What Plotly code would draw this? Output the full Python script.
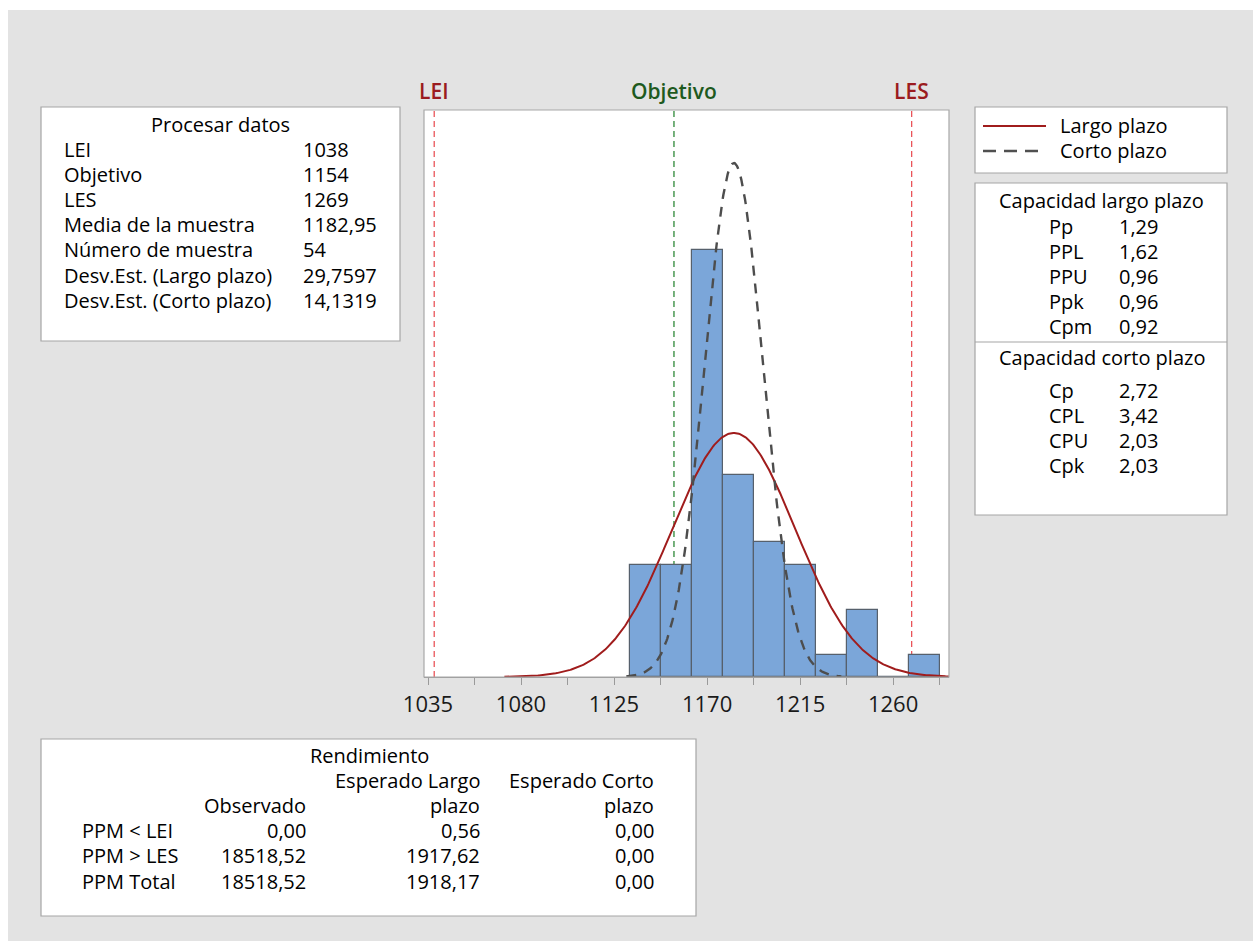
import numpy as np
import plotly.graph_objects as go

# ---------------- data ----------------
bin_centers = [1140, 1155, 1170, 1185, 1200, 1215, 1230, 1245, 1260, 1275]
counts = [5, 5, 19, 9, 6, 5, 1, 3, 0, 1]
bin_width = 15
n_sample = 54
LEI, Objetivo, LES = 1038, 1154, 1269
mean = 1182.95
sd_long = 29.7597
sd_short = 14.1319

tick_vals = [1035, 1080, 1125, 1170, 1215, 1260]

proc_labels = ["LEI", "Objetivo", "LES", "Media de la muestra", "Número de muestra",
               "Desv.Est. (Largo plazo)", "Desv.Est. (Corto plazo)"]
proc_values = ["1038", "1154", "1269", "1182,95", "54", "29,7597", "14,1319"]

long_labels = ["Pp", "PPL", "PPU", "Ppk", "Cpm"]
long_values = ["1,29", "1,62", "0,96", "0,96", "0,92"]
short_labels = ["Cp", "CPL", "CPU", "Cpk"]
short_values = ["2,72", "3,42", "2,03", "2,03"]

perf_rows = ["PPM < LEI", "PPM > LES", "PPM Total"]
perf_obs = ["0,00", "18518,52", "18518,52"]
perf_long = ["0,56", "1917,62", "1918,17"]
perf_short = ["0,00", "0,00", "0,00"]

# ---------------- layout geometry (pixels) ----------------
W, H = 1253, 941
L, R, T, B = 424, 949, 110, 677
FONT = "Open Sans"
FS = 20
FW = 500


def fx(px):
    return (px - L) / (R - L)


def fy(py):
    return (B - py) / (B - T)


dens = [c / (n_sample * bin_width) for c in counts]


def npdf(x, m, s):
    return np.exp(-0.5 * ((x - m) / s) ** 2) / (s * np.sqrt(2 * np.pi))


x_long = np.linspace(mean - 3.73 * sd_long, 1287.5, 400)
x_short = np.linspace(mean - 3.68 * sd_short, mean + 3.68 * sd_short, 300)

fig = go.Figure()
fig.add_trace(go.Bar(x=bin_centers, y=dens, width=bin_width,
                     marker=dict(color="#7BA6D9", line=dict(color="#56606C", width=1.2)),
                     hoverinfo="skip"))
fig.add_trace(go.Scatter(x=x_long, y=npdf(x_long, mean, sd_long), mode="lines",
                         line=dict(color="#A01C1C", width=2), hoverinfo="skip"))
fig.add_trace(go.Scatter(x=x_short, y=npdf(x_short, mean, sd_short), mode="lines",
                         line=dict(color="#4D4D4D", width=2.4, dash="10px,8px"), hoverinfo="skip"))

shapes = []
annotations = []

# white outer strips
shapes.append(dict(type="rect", xref="paper", yref="paper", x0=fx(0), x1=fx(W), y0=fy(0), y1=fy(10),
                   fillcolor="white", line=dict(width=0), layer="below"))
shapes.append(dict(type="rect", xref="paper", yref="paper", x0=fx(0), x1=fx(8), y0=fy(0), y1=fy(H),
                   fillcolor="white", line=dict(width=0), layer="below"))

# spec lines
for val, col in [(LEI, "#E8474C"), (LES, "#E8474C"), (Objetivo, "#1D7F28")]:
    shapes.append(dict(type="line", xref="x", yref="paper", x0=val, x1=val, y0=0, y1=1,
                       line=dict(color=col, width=1.2, dash="6px,4px"), layer="below"))
for val, txt, col in [(LEI, "LEI", "#9B1B20"), (Objetivo, "Objetivo", "#1E5A1E"), (LES, "LES", "#9B1B20")]:
    annotations.append(dict(x=val, xref="x", y=fy(91), yref="paper", text=txt,
                            showarrow=False, xanchor="center", yanchor="middle",
                            font=dict(family=FONT, size=21, color=col, weight=600)))

# plot border
shapes.append(dict(type="rect", xref="paper", yref="paper", x0=0, x1=1, y0=0, y1=1,
                   line=dict(color="#A8A8A8", width=1.2), fillcolor="rgba(0,0,0,0)", layer="above"))


def box(x0, y0, x1, y1):
    shapes.append(dict(type="rect", xref="paper", yref="paper", x0=fx(x0), x1=fx(x1), y0=fy(y1), y1=fy(y0),
                       fillcolor="white", line=dict(color="#A6A6A6", width=1.2)))


def text(px, py, s, anchor="left", color="black", size=FS):
    annotations.append(dict(x=fx(px), y=fy(py), xref="paper", yref="paper", text=s, showarrow=False,
                            xanchor=anchor, yanchor="middle",
                            font=dict(family=FONT, size=size, color=color, weight=FW)))


# Procesar datos
box(41, 107, 400, 341)
text(220, 124, "Procesar datos", "center")
for i, (lab, val) in enumerate(zip(proc_labels, proc_values)):
    y = 149 + i * 25.2
    text(62, y, lab)
    text(301, y, val)

# Legend box
box(975, 107, 1227, 173)
shapes.append(dict(type="line", xref="paper", yref="paper", x0=fx(983), x1=fx(1046), y0=fy(126), y1=fy(126),
                   line=dict(color="#A01C1C", width=2.2)))
shapes.append(dict(type="line", xref="paper", yref="paper", x0=fx(983), x1=fx(1040), y0=fy(151), y1=fy(151),
                   line=dict(color="#505050", width=2.4, dash="13px,8px")))
text(1058, 125, "Largo plazo")
text(1058, 150, "Corto plazo")

# Capability box
box(975, 183, 1227, 515)
text(1101, 200, "Capacidad largo plazo", "center")
for i, (lab, val) in enumerate(zip(long_labels, long_values)):
    y = 226 + i * 25
    text(1047, y, lab)
    text(1117, y, val)
shapes.append(dict(type="line", xref="paper", yref="paper", x0=fx(975), x1=fx(1227), y0=fy(342), y1=fy(342),
                   line=dict(color="#A6A6A6", width=1.2)))
text(1102, 357, "Capacidad corto plazo", "center")
for i, (lab, val) in enumerate(zip(short_labels, short_values)):
    y = 390 + i * 25
    text(1047, y, lab)
    text(1117, y, val)

# Rendimiento box
box(41, 739, 696, 916)
text(369, 755, "Rendimiento", "center")
text(482, 780, "Esperado Largo", "right")
text(656, 780, "Esperado Corto", "right")
text(308, 805, "Observado", "right")
text(482, 805, "plazo", "right")
text(656, 805, "plazo", "right")
for i, lab in enumerate(perf_rows):
    y = 830 + i * 25.5
    text(80, y, lab)
    text(308, y, perf_obs[i], "right")
    text(482, y, perf_long[i], "right")
    text(656, y, perf_short[i], "right")

x_lo = 1035 - (428 - L) / 2.067
x_hi = 1035 + (R - 428) / 2.067

fig.update_layout(
    width=W, height=H,
    margin=dict(l=L, r=W - R, t=T, b=H - B, pad=0),
    paper_bgcolor="#E3E3E3", plot_bgcolor="white",
    showlegend=False, bargap=0,
    shapes=shapes, annotations=annotations,
    xaxis=dict(range=[x_lo, x_hi], tickmode="array", tickvals=tick_vals,
               ticktext=[str(v) for v in tick_vals],
               ticks="outside", ticklen=7, tickcolor="#9A9A9A", tickwidth=1,
               minor=dict(tickmode="array", tickvals=[1057.5, 1102.5, 1147.5, 1192.5, 1237.5, 1282.5],
                          ticks="outside", ticklen=7, tickcolor="#9A9A9A"),
               showline=True, linecolor="#9A9A9A", linewidth=1.2,
               showgrid=False, zeroline=False,
               tickfont=dict(family=FONT, size=22, color="#1A1A1A", weight=500), fixedrange=True),
    yaxis=dict(range=[0, 0.03114], visible=False, showgrid=False, zeroline=False, fixedrange=True),
)

fig.write_html("out.html")
